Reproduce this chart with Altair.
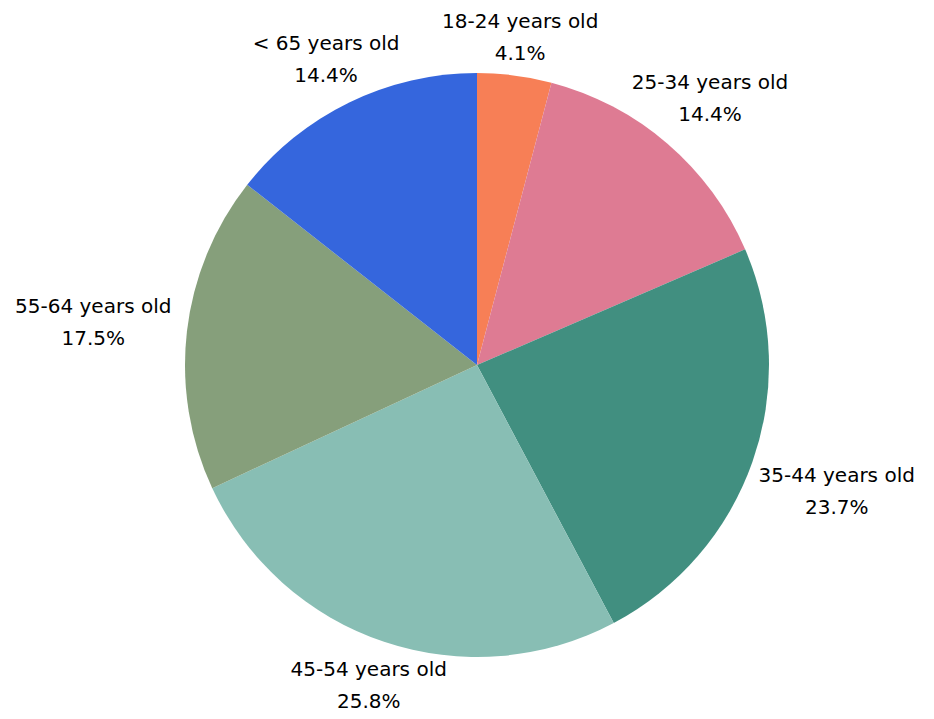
import altair as alt
import pandas as pd

categories = ["18-24 years old", "25-34 years old", "35-44 years old",
              "45-54 years old", "55-64 years old", "< 65 years old"]
values = [4.1, 14.4, 23.7, 25.8, 17.5, 14.4]
colors = ["#F77F56", "#DE7B93", "#418F80", "#88BEB4", "#869F7B", "#3566DD"]

df = pd.DataFrame({
    "category": categories,
    "value": values,
    "order": list(range(len(categories))),
    "pct": [f"{v:.1f}%" for v in values],
})

CX, CY, R = 469, 357, 292
LH = 32

base = alt.Chart(df)

arcs = base.mark_arc(outerRadius=R).encode(
    theta=alt.Theta("value:Q", stack=True),
    order=alt.Order("order:Q"),
    color=alt.Color("category:N", scale=alt.Scale(domain=categories, range=colors), legend=None),
    x=alt.value(CX),
    y=alt.value(CY),
)

labels = base.transform_window(
    cum="sum(value)", sort=[alt.SortField("order")], frame=[None, 0]
).transform_joinaggregate(
    total="sum(value)"
).transform_calculate(
    mid="(datum.cum - datum.value/2)/datum.total*2*PI",
).transform_calculate(
    lr=f"{R}+43+52*pow(sin(datum.mid),2)",
).transform_calculate(
    lx=f"{CX}+datum.lr*sin(datum.mid)",
    ly=f"{CY}-datum.lr*cos(datum.mid)-{LH / 2}+2+4*cos(datum.mid)",
    txt="datum.category + '\\n' + datum.pct",
).mark_text(
    fontSize=20, font="DejaVu Sans", color="#000000", lineHeight=LH,
    align="center", baseline="middle", lineBreak="\n",
).encode(
    x=alt.X("lx:Q", scale=None),
    y=alt.Y("ly:Q", scale=None),
    text=alt.Text("txt:N"),
)

chart = alt.layer(arcs, labels).properties(
    width=918, height=703, padding=0, autosize="none"
).configure_view(stroke=None)

chart.save("out.html", embed_options={"renderer": "svg", "actions": False})
